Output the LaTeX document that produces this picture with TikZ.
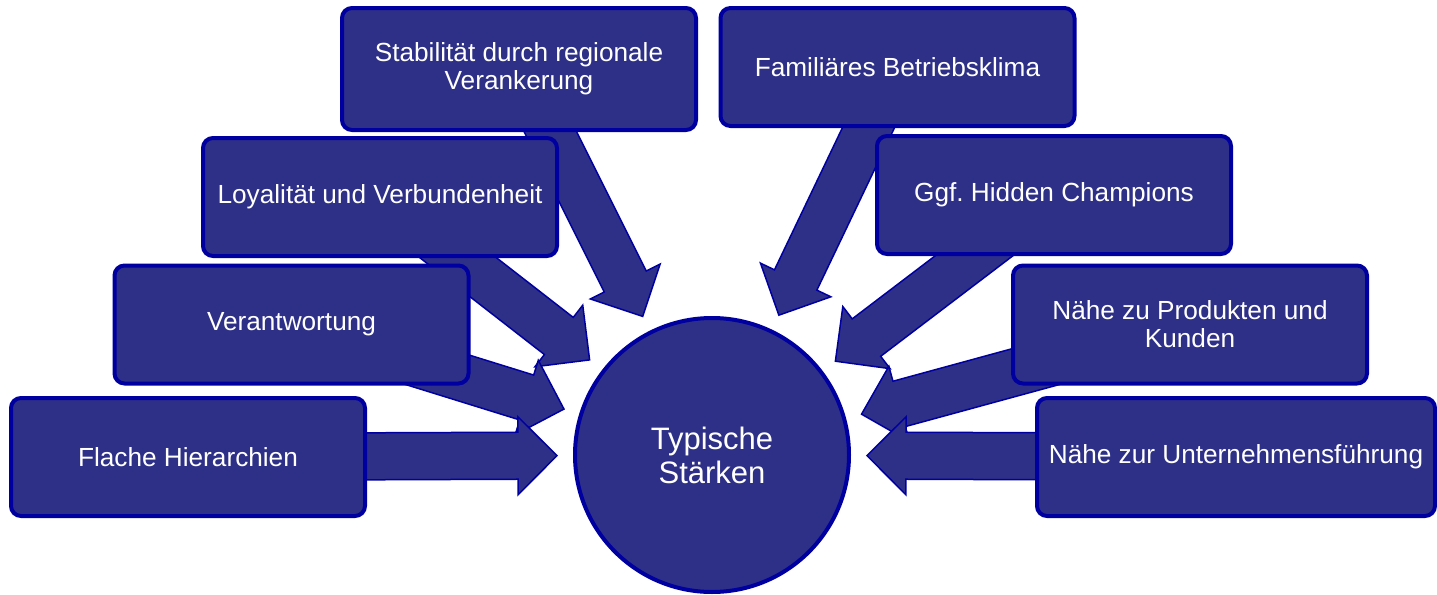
\documentclass[tikz,border=0pt]{standalone}
\usepackage{fontspec}
\setmainfont{Liberation Sans}
\usetikzlibrary{calc}
\frenchspacing
\pgfdeclarelayer{bg}
\pgfsetlayers{bg,main}
\definecolor{boxfill}{RGB}{46,48,135}
\definecolor{boxline}{RGB}{0,0,160}
\tikzset{
  box/.style={draw=boxline, fill=boxfill, line width=2pt, rounded corners=5pt,
    minimum width=177pt, minimum height=59pt, text=white, align=center,
    font=\fontsize{13.1}{14}\selectfont, inner sep=0pt},
  hub/.style={circle, draw=boxline, fill=boxfill, line width=2pt, minimum size=137pt,
    text=white, align=center, font=\fontsize{15.5}{17}\selectfont, inner sep=0pt},
  blockarrow/.style={draw=boxline, fill=boxfill, line width=0.75pt, line join=miter}
}
\newcommand\myblockarrow[2]{%
  \coordinate (#2b) at ($(#2)!19.5pt!(#1.center)$);
  \path[blockarrow] ($(#1.center)!11.75pt!90:(#2)$) -- ($(#2b)!11.75pt!90:(#2)$)
    -- ($(#2b)!19.5pt!90:(#2)$) -- (#2) -- ($(#2b)!19.5pt!-90:(#2)$)
    -- ($(#2b)!11.75pt!-90:(#2)$) -- ($(#1.center)!11.75pt!-90:(#2)$) -- cycle;
}
\begin{document}
\begin{tikzpicture}[x=0.5pt,y=-0.5pt]
\useasboundingbox (0,0) rectangle (1437,595);
\node[hub] (c) at (712,455) {Typische\\Stärken};
\node[box, minimum height=61pt] (b1) at (519,69) {Stabilität durch regionale\\Verankerung};
\node[box] (b2) at (897.5,67) {Familiäres Betriebsklima};
\node[box] (b3) at (380,197) {Loyalität und Verbundenheit};
\node[box] (b4) at (1054,195) {Ggf. Hidden Champions};
\node[box] (b5) at (291.5,324.5) {Verantwortung};
\node[box] (b6) at (1190,324.5) {Nähe zu Produkten und\\Kunden};
\node[box] (b7) at (188,457) {Flache Hierarchien};
\node[box, minimum width=199pt] (b8) at (1236,457) {Nähe zur Unternehmensführung};
\begin{pgfonlayer}{bg}
\foreach \i in {1,...,8}{
  \coordinate (t\i) at ($(c.center)!77.5pt!(b\i.center)$);
  \myblockarrow{b\i}{t\i}
}
\end{pgfonlayer}
\end{tikzpicture}
\end{document}
